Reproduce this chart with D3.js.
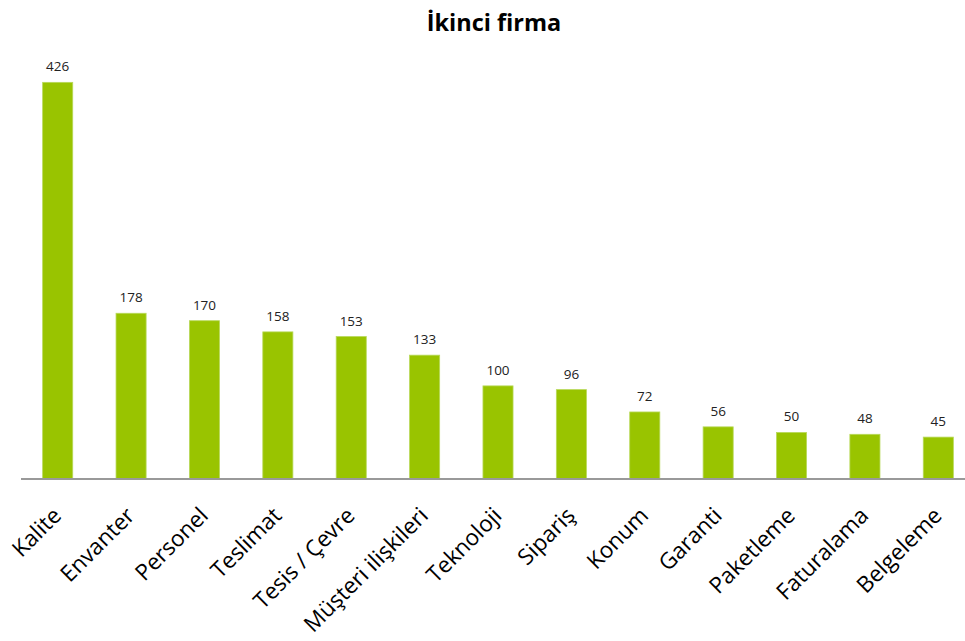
<!DOCTYPE html>
<html>
<head>
<meta charset="utf-8">
<script src="https://cdn.jsdelivr.net/npm/d3@7"></script>
<style>
  html, body { margin: 0; padding: 0; background: #fff; }
  svg { display: block; }
</style>
</head>
<body>
<svg id="chart" width="965" height="641"></svg>
<script>
// Category names and counts for the second company
const categories = ["Kalite", "Envanter", "Personel", "Teslimat", "Tesis / Çevre", "Müşteri ilişkileri",
  "Teknoloji", "Sipariş", "Konum", "Garanti", "Paketleme", "Faturalama", "Belgeleme"];
const counts = [426, 178, 170, 158, 153, 133, 100, 96, 72, 56, 50, 48, 45];
const chartTitle = "İkinci firma";

const svg = d3.select("#chart");
const fontFam = "'Open Sans', 'Noto Sans', sans-serif";

const baseY = 479;
const x = d3.scaleBand().domain(categories).range([21, 975]).paddingInner(0.59).paddingOuter(0.295);
const y = d3.scaleLinear().domain([0, 450]).range([baseY, 60]);

const data = categories.map((c, i) => ({ c, v: counts[i] }));

// Title
svg.append("text")
  .attr("x", 494).attr("y", 31)
  .attr("text-anchor", "middle")
  .attr("font-family", fontFam)
  .attr("font-weight", "bold")
  .attr("font-size", 23.5)
  .attr("fill", "#000")
  .text(chartTitle);

// Bars
svg.append("g").selectAll("rect").data(data).join("rect")
  .attr("x", d => x(d.c))
  .attr("y", d => y(d.v))
  .attr("width", x.bandwidth())
  .attr("height", d => baseY - y(d.v))
  .attr("fill", "#99c400")
  .attr("stroke", "#b8d95a")
  .attr("stroke-width", 0.8);

// Value labels
svg.append("g").selectAll("text").data(data).join("text")
  .attr("x", d => x(d.c) + x.bandwidth() / 2)
  .attr("y", d => y(d.v) - 11)
  .attr("text-anchor", "middle")
  .attr("font-family", fontFam)
  .attr("font-size", 13.5)
  .attr("fill", "#222")
  .text(d => d.v);

// Category axis
const axis = svg.append("g")
  .attr("transform", `translate(0,${baseY})`)
  .call(d3.axisBottom(x).tickSize(0).tickPadding(0));
axis.select(".domain").attr("stroke", "#999").attr("stroke-width", 2)
  .attr("d", "M21,0H965");
axis.selectAll(".tick text")
  .attr("font-family", fontFam)
  .attr("font-size", 22.5)
  .attr("fill", "#000")
  .attr("text-anchor", "end")
  .attr("dy", 0)
  .attr("transform", "translate(5,38) rotate(-45)");
</script>
</body>
</html>
